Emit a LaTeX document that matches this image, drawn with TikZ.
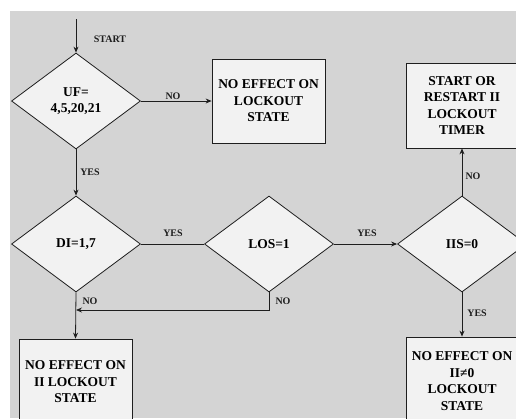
\documentclass[tikz,border=0pt]{standalone}
\usepackage{fontspec}
\setmainfont{Liberation Serif}
\usetikzlibrary{shapes.geometric,arrows.meta}
\definecolor{bggray}{RGB}{212,212,212}
\definecolor{boxfill}{RGB}{242,242,242}
\definecolor{linecol}{RGB}{30,30,30}
\begin{document}
\begin{tikzpicture}[x=1pt,y=-1pt,
  decision/.style={shape=diamond,draw=linecol,fill=boxfill,line width=0.8pt,inner sep=0pt,minimum width=129pt,minimum height=96pt,font=\bfseries\fontsize{13.5}{16}\selectfont,align=center},
  action/.style={shape=rectangle,draw=linecol,fill=boxfill,line width=0.8pt,inner sep=0pt,minimum width=113pt,font=\bfseries\fontsize{13.5}{16.5}\selectfont,align=center},
  conn/.style={draw=linecol,line width=0.8pt},
  arr/.style={conn,-{Stealth[length=6pt,width=5pt]}},
  lbl/.style={font=\bfseries\fontsize{10}{12}\selectfont,text=linecol,inner sep=0pt}]
\useasboundingbox (0,0) rectangle (516,418);
\fill[white] (0,0) rectangle (516,418);
\fill[bggray] (10,11) rectangle (516,418);

\node[decision] (uf) at (76,101) {UF=\\4,5,20,21};
\node[decision] (di) at (76,244) {DI=1,7};
\node[decision] (los) at (269,244) {LOS=1};
\node[decision] (iis) at (462,244) {IIS=0};

\node[action,minimum height=84pt] (b1) at (268.5,101) {NO EFFECT ON\\LOCKOUT\\STATE};
\node[action,minimum width=112pt,minimum height=85pt] (b2) at (462,105.5) {START OR\\RESTART II\\LOCKOUT\\TIMER};
\node[action,minimum height=86pt] (b3) at (75.5,382) {NO EFFECT ON\\II LOCKOUT\\STATE};
\node[action,minimum width=112pt,minimum height=88pt] (b4) at (462,381) {NO EFFECT ON\\II≠0\\LOCKOUT\\STATE};

\coordinate (start) at (76,19);
\coordinate (merge) at (76,310);

\draw[arr] (start) -- (uf.north);
\node[lbl] (lstart) at (110,39) {START};

\draw[arr] (uf.east) -- (b1.west);
\node[lbl] (lno1) at (173,96) {NO};

\draw[arr] (uf.south) -- (di.north);
\node[lbl] (lyes1) at (90,172) {YES};

\draw[conn] (di.east) -- (los.west);
\node[lbl] (lyes2) at (173,233) {YES};

\draw[arr] (los.east) -- (iis.west);
\node[lbl] (lyes3) at (367,233) {YES};

\draw[arr] (iis.north) -- (b2.south);
\node[lbl] (lno4) at (473,176) {NO};

\draw[arr] (iis.south) -- (b4.north);
\node[lbl] (lyes4) at (477,313) {YES};

\draw[arr] (di.south) -- (b3.north);
\node[lbl] (lno2) at (90,301) {NO};

\draw[arr] (los.south) |- (merge);
\node[lbl] (lno3) at (283,301) {NO};
\end{tikzpicture}
\end{document}
